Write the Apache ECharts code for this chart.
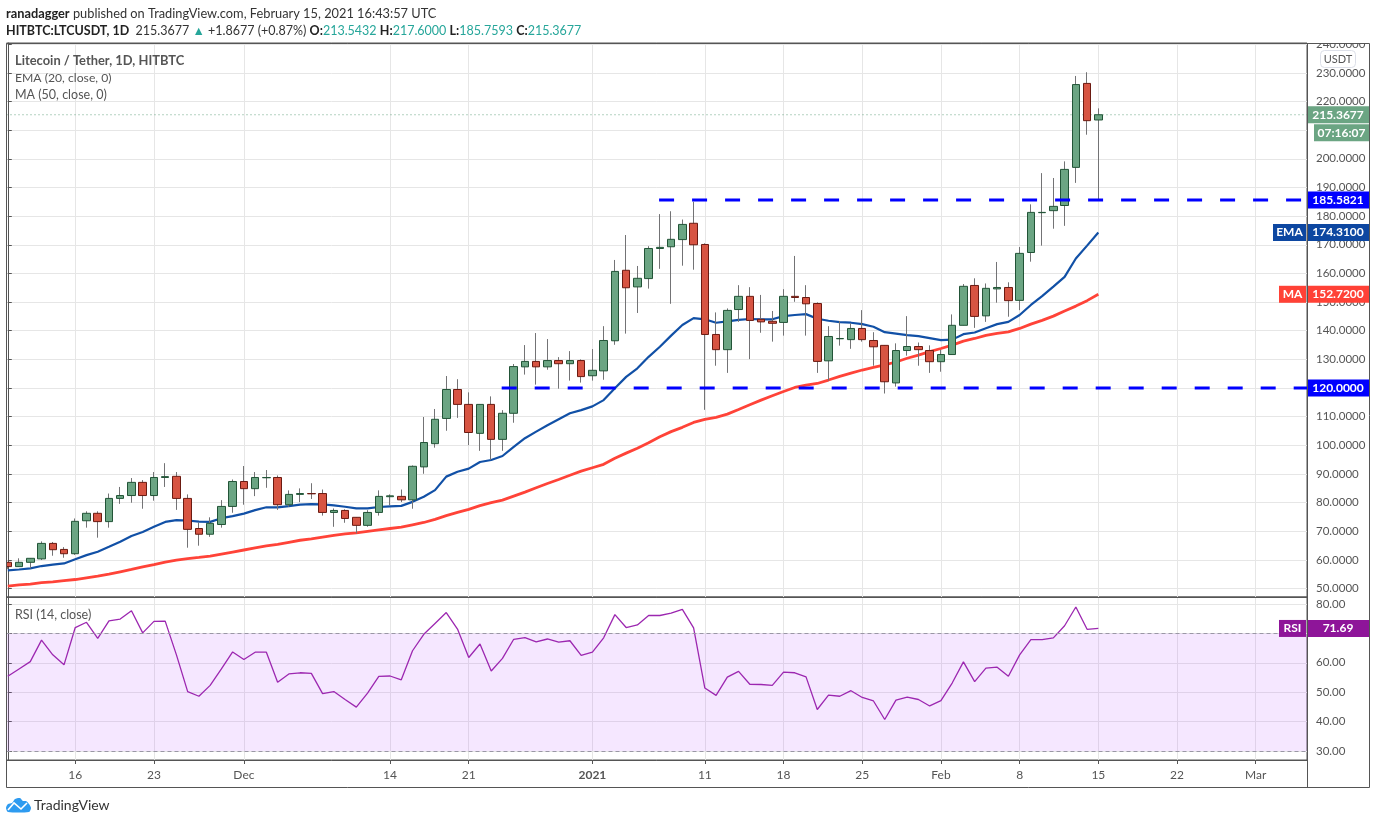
<!DOCTYPE html>
<html><head><meta charset="utf-8">
<style>html,body{margin:0;padding:0;background:#fff}#c{width:1376px;height:824px}</style>
<script src="https://cdn.jsdelivr.net/npm/echarts@6/dist/echarts.min.js"></script>
</head><body><div id="c"></div>
<script>
// day index: 0 = 10 Nov 2020, 97 = 15 Feb 2021
const tickDays=[6,13,21,34,41,52,62,69,76,83,90,97,104,111];
const tickLabels=['16','23','Dec','14','21','2021','11','18','25','Feb','8','15','22','Mar'];
const priceTicks=[50,60,70,80,90,100,110,120,130,140,150,160,170,180,190,200,210,220,230,240];
const rsiTicks=[30,40,50,60,70,80];
const opens=[59.2,57.7,59.2,60.4,65.8,63.7,62.2,73.7,76.3,73.4,81.5,82.5,87.1,82.5,88.8,89.2,81.5,71.0,69.0,72.4,78.7,87.4,84.9,88.7,88.8,79.3,82.9,83.2,83.2,76.6,77.3,74.9,72.1,76.6,82.1,82.2,81.0,92.5,100.6,109.4,
119.5,114.3,104.2,114.3,102.1,111.2,127.4,129.3,127.4,129.6,128.5,129.6,124.3,126.0,136.5,161.1,155.3,158.2,168.7,169.3,171.8,177.5,170.1,138.7,133.4,147.4,152.0,144.0,143.3,142.9,152.0,151.6,149.5,129.5,137.2,136.9,140.8,136.6,134.9,121.8,133.1,134.5,133.1,129.2,131.7,141.9,155.8,145.2,154.6,155.1,150.6,167.3,181.2,181.9,183.7,197.0,226.3,213.5432];
const closes=[57.7,59.2,60.6,65.8,63.6,62.2,73.5,76.3,73.4,81.5,82.5,87.1,82.5,88.8,89.1,81.5,70.7,69.0,72.8,78.7,87.4,84.9,88.8,88.8,79.3,82.9,83.2,83.1,76.6,77.3,74.5,72.1,76.6,82.2,82.4,81.0,92.7,101.0,109.1,119.5,
114.3,104.5,114.3,102.1,111.2,127.5,129.3,127.4,129.6,128.5,129.6,124.0,126.2,136.6,160.7,155.0,158.3,168.7,169.1,171.9,177.1,170.0,138.7,133.4,147.1,152.0,143.6,143.1,142.6,152.0,151.6,149.4,129.3,138.0,137.3,140.8,136.9,134.4,122.2,133.1,134.5,133.4,129.2,131.7,141.9,155.5,145.0,154.8,155.1,150.5,167.0,181.3,181.3,183.4,196.3,225.9,213.3,215.3677];
const lows=[56.9,57.7,57.1,60.0,61.5,60.8,61.8,71.3,67.8,71.3,79.6,80.0,77.9,80.7,85.5,77.5,64.3,65.0,68.1,71.3,76.5,79.3,82.3,85.2,77.5,78.6,80.2,81.3,75.5,71.6,73.0,69.3,71.6,75.5,79.1,80.2,77.9,90.1,99.2,105.1,
109.6,100.1,98.1,94.9,98.1,107.9,124.7,121.2,126.4,119.8,122.6,121.9,122.6,122.9,135.1,139.0,146.2,154.7,161.6,149.4,162.7,161.3,112.4,127.8,125.3,143.1,130.1,139.3,136.2,138.3,150.1,138.3,125.3,122.6,134.8,133.7,136.2,127.8,118.1,120.5,131.3,127.8,125.3,125.7,131.7,141.9,141.0,143.1,149.8,144.9,147.2,164.1,169.7,175.6,176.6,191.6,208.4,185.7593];
const highs=[59.2,60.6,60.6,66.5,66.3,64.5,74.5,77.0,77.0,83.2,85.5,88.6,87.9,90.7,93.8,90.7,82.9,73.1,74.9,80.9,88.1,92.8,90.7,91.4,89.5,84.3,85.0,86.8,84.6,78.0,77.7,74.9,77.4,84.3,82.9,84.6,93.0,109.9,112.7,124.2,
123.1,118.5,114.3,117.1,112.3,128.4,135.0,139.2,137.1,130.8,132.9,130.0,133.6,141.6,164.7,173.4,162.6,169.5,180.7,181.7,178.8,185.0,170.5,146.4,147.8,155.9,155.2,152.5,146.9,154.5,166.1,155.9,149.9,141.6,143.4,142.6,147.2,139.5,134.9,135.6,145.1,135.9,134.9,133.3,145.7,156.3,158.3,156.5,164.0,156.9,169.2,184.1,195.0,193.3,199.1,228.9,230.2,217.6];
const ema20=[56.4,56.7,57.1,57.9,58.4,58.8,60.3,61.7,62.9,64.6,66.4,68.4,69.8,71.6,73.3,73.9,73.8,73.4,73.3,74.6,75.3,76.2,77.4,78.4,78.4,78.8,79.3,79.5,79.4,79.1,78.6,78.0,78.0,78.5,78.7,78.9,80.3,82.1,84.4,89.1,
90.8,91.9,94.2,94.9,96.3,99.5,102.5,104.8,107.0,109.1,111.2,112.3,113.6,115.8,119.9,123.9,126.9,130.9,134.4,138.3,142.0,144.4,144.0,142.8,143.3,143.8,144.1,144.0,144.0,145.1,145.5,145.8,144.2,143.5,143.0,142.8,142.3,141.4,139.5,139.0,138.5,138.1,137.4,136.7,136.9,138.8,139.4,140.9,142.3,143.1,145.5,149.0,152.1,155.4,158.8,165.2,169.7,174.31];
const ma50=[50.9,51.3,51.6,52.1,52.4,52.8,53.2,53.8,54.4,55.1,55.9,56.7,57.6,58.4,59.3,60.0,60.5,60.9,61.4,62.1,62.8,63.5,64.2,64.9,65.5,66.2,66.9,67.4,68.0,68.6,69.1,69.5,70.0,70.5,71.0,71.5,72.3,73.1,74.2,75.5,
76.6,77.7,79.0,80.0,80.9,82.3,83.7,85.2,86.7,88.1,89.6,91.0,92.2,93.4,95.5,97.3,99.0,100.9,103.0,104.8,106.3,108.0,109.1,109.8,110.9,112.5,114.2,115.8,117.3,118.8,120.2,121.0,121.6,122.8,124.1,125.2,126.3,127.2,128.1,129.1,130.4,131.5,132.7,133.8,135.0,136.4,137.3,138.4,139.1,139.6,140.8,142.3,143.6,145.1,146.9,148.6,150.5,152.72];
const rsi14=[55.4,57.9,60.4,67.7,62.7,59.3,72.0,73.8,68.3,74.3,74.9,77.7,70.2,74.1,74.2,62.7,50.2,48.6,52.3,57.9,63.7,61.1,63.6,63.6,53.4,56.2,56.6,56.4,49.5,50.2,47.5,44.9,49.7,55.4,55.5,54.2,64.1,69.7,73.4,77.1,
71.5,61.8,66.4,57.2,61.5,68.0,68.6,67.1,68.1,67.0,67.5,62.5,63.6,68.5,76.4,72.0,72.9,76.1,76.1,76.9,78.2,71.9,51.4,48.9,55.1,57.1,52.7,52.6,52.3,56.8,56.6,55.2,44.1,49.0,48.6,50.5,48.2,47.0,40.7,47.3,48.3,47.5,45.3,47.1,53.1,60.3,53.6,58.2,58.5,55.4,62.7,67.9,67.9,68.5,72.6,79.0,71.4,71.69];
const resistance=185.5821, resistanceFrom=57.93;
const support=120, supportFrom=43.93;
const lastPrice=215.3677, emaLast=174.31, maLast=152.72, rsiLast=71.69;

const FONT='Lato';
const GRID='#e6e6e6', FRAME='#555', TXT='#555';
const xMin=-0.115, xMax=115.56;
const chart=echarts.init(document.getElementById('c'),null,{renderer:'canvas'});
const days=opens.map((_,i)=>i);
const candleData=days.map(i=>[i,opens[i],closes[i],lows[i],highs[i]]);
const bodyData=days.map(i=>[i,opens[i],closes[i],Math.min(opens[i],closes[i]),Math.max(opens[i],closes[i])]);
const pair=a=>a.map((v,i)=>[i,v]);
const xBase={type:'value',min:xMin,max:xMax,
  axisLine:{show:true,lineStyle:{color:FRAME}},
  axisTick:{customValues:tickDays,length:4,lineStyle:{color:FRAME}},
  splitLine:{show:true,lineStyle:{color:GRID,width:1}}};
const main={left:6.5,right:69,top:43,height:554,show:true,borderColor:FRAME,borderWidth:1,backgroundColor:'transparent'};
const sub={left:6.5,right:69,top:597,height:163,show:true,borderColor:FRAME,borderWidth:1,backgroundColor:'transparent'};
const yBase=(min,max,ticks,fmt)=>({type:'value',position:'right',min,max,
  axisLine:{show:true,lineStyle:{color:FRAME}},
  axisTick:{show:true,customValues:ticks,length:4,lineStyle:{color:FRAME}},
  axisLabel:{customValues:ticks,formatter:fmt,color:TXT,fontFamily:FONT,fontSize:11.5,margin:9,showMinLabel:true,showMaxLabel:true,hideOverlap:false},
  splitLine:{show:true,lineStyle:{color:GRID,width:1}}});

const option={
  animation:false,backgroundColor:'#fff',textStyle:{fontFamily:FONT},
  grid:[main,sub],
  xAxis:[
    Object.assign({},xBase,{gridIndex:0,axisLabel:{show:false,customValues:tickDays},axisTick:{show:false,customValues:tickDays}}),
    Object.assign({},xBase,{gridIndex:1,axisLabel:{customValues:tickDays,color:TXT,fontFamily:FONT,fontSize:12,margin:9,hideOverlap:false,
      formatter:v=>{const s=tickLabels[tickDays.indexOf(v)];return s==='2021'?'{b|2021}':s;},rich:{b:{fontWeight:'bold',color:TXT,fontFamily:FONT,fontSize:12}}}})
  ],
  yAxis:[
    yBase(47.1,240.4,priceTicks,v=>v.toFixed(4)),
    Object.assign(yBase(26.9,82.4,rsiTicks,v=>v.toFixed(2)),{gridIndex:1})
  ],
  series:[
    {name:'EMA',type:'line',z:2,data:pair(ema20),showSymbol:false,symbol:'none',lineStyle:{color:'#1150a6',width:2.2},silent:true},
    {name:'MA',type:'line',z:2,data:pair(ma50),showSymbol:false,symbol:'none',lineStyle:{color:'#ff4338',width:2.8},silent:true},
    {name:'wick',type:'candlestick',z:3,barWidth:1,clip:true,data:candleData,encode:{x:0,y:[1,2,3,4]},
      itemStyle:{color:'#737375',color0:'#737375',borderColor:'#737375',borderColor0:'#737375',borderWidth:1}},
    {name:'body',type:'candlestick',z:4,barWidth:8,clip:true,data:bodyData,encode:{x:0,y:[1,2,3,4]},
      itemStyle:{color:'#6ba583',color0:'#d75442',borderColor:'#225437',borderColor0:'#6b1a11',borderWidth:1}},
    {name:'last',type:'line',z:4,data:[[xMin,lastPrice],[xMax,lastPrice]],symbol:'none',lineStyle:{color:'#6ba583',width:1,type:[1,3]},silent:true},
    {name:'resistance',type:'line',z:5,data:[[resistanceFrom,resistance],[xMax,resistance]],symbol:'none',lineStyle:{color:'#0000ff',width:3,type:[15,18]},silent:true},
    {name:'support',type:'line',z:5,data:[[supportFrom,support],[xMax,support]],symbol:'none',lineStyle:{color:'#0000ff',width:3,type:[15,18]},silent:true},
    {name:'RSI',type:'line',xAxisIndex:1,yAxisIndex:1,z:4,data:pair(rsi14),symbol:'none',lineStyle:{color:'#9c27b0',width:1.3},silent:true,
      markArea:{silent:true,itemStyle:{color:'rgba(170,60,255,0.12)'},data:[[{yAxis:70,xAxis:xMin},{yAxis:30,xAxis:xMax}]]},
      markLine:{silent:true,symbol:'none',label:{show:false},lineStyle:{color:'#9a97a5',width:1,type:[4,3]},data:[{yAxis:70},{yAxis:30}]}}
  ]
};
chart.setOption(option);

const priceY=v=>chart.convertToPixel({yAxisIndex:0},v);
const rsiY=v=>chart.convertToPixel({yAxisIndex:1},v);
const AX=1307, AR=1369;
function tag(x,w,cy,txt,fill){
  return [{type:'rect',z:100,shape:{x,y:cy-8.5,width:w,height:17},style:{fill}},
    {type:'text',z:101,x:x+w/2,y:cy,style:{text:txt,fill:'#fff',font:'bold 12px '+FONT,align:'center',verticalAlign:'middle'}}];
}
const txt=(x,y,text,fill,size,weight)=>({type:'text',z:101,x,y,style:{text,fill,font:(weight?weight+' ':'')+size+'px '+FONT,verticalAlign:'middle'}});
const lastY=priceY(lastPrice), emaY=priceY(emaLast), maY=priceY(maLast), resY=priceY(resistance), supY=priceY(support), rY=rsiY(rsiLast);
const green='#6ba583', TEAL='#26a69a';
const graphics=[
  // masks: keep the clipped first candle and the top label inside the frame
  {type:'rect',z:99,shape:{x:0,y:43,width:6.5,height:554},style:{fill:'#fff'}},
  {type:'rect',z:99,shape:{x:AX+0.5,y:36,width:70,height:7},style:{fill:'#fff'}},
  {type:'polyline',z:102,shape:{points:[[6.5,43.5],[AR+0.5,43.5],[AR+0.5,787.5],[6.5,787.5],[6.5,43.5]]},style:{stroke:FRAME,fill:'none',lineWidth:1}},
  {type:'line',z:102,shape:{x1:AX+0.5,y1:43,x2:AX+0.5,y2:787},style:{stroke:FRAME,lineWidth:1}},
  {type:'rect',z:100,shape:{x:1320.5,y:50.5,width:35,height:17,r:4},style:{fill:'#fff',stroke:'#dcdfe8',lineWidth:1}},
  {type:'text',z:101,x:1338,y:59,style:{text:'USDT',fill:TXT,font:'11px '+FONT,align:'center',verticalAlign:'middle'}},
  ...tag(AX,AR-AX,lastY,'215.3677',green),
  ...tag(1314,AR-1314,lastY+18,'07:16:07',green),
  ...tag(AX,AR-AX,resY,'185.5821','#0000ff'),
  ...tag(AX,AR-AX,supY,'120.0000','#0000ff'),
  ...tag(AX,AR-AX,emaY,'174.3100','#0d47a1'),
  ...tag(1273,33,emaY,'EMA','#0d47a1'),
  ...tag(AX,AR-AX,maY,'152.7200','#ff4136'),
  ...tag(1279,27,maY,'MA','#ff4136'),
  ...tag(AX,AR-AX,rY,rsiLast.toFixed(2),'#8e1599'),
  ...tag(1279,27,rY,'RSI','#8e1599'),
  // header
  {type:'text',z:101,x:6,y:14,style:{text:'{b|ranadagger} {n|published on TradingView.com, February 15, 2021 16:43:57 UTC}',verticalAlign:'middle',font:'12.8px '+FONT,
     rich:{b:{font:'bold 12.8px '+FONT,fill:'#222'},n:{font:'12.8px '+FONT,fill:'#333'}}}},
  {type:'text',z:101,x:6,y:31,style:{text:'{b|HITBTC:LTCUSDT, 1D}  {n|215.3677} {t|▲} {n|+1.8677 (+0.87%)} {b|O:}{t|213.5432} {b|H:}{t|217.6000} {b|L:}{t|185.7593} {b|C:}{t|215.3677}',verticalAlign:'middle',font:'12.5px '+FONT,
     rich:{b:{font:'bold 12.5px '+FONT,fill:'#222'},n:{font:'12.5px '+FONT,fill:'#333'},t:{font:'12.5px '+FONT,fill:TEAL}}}},
  txt(15,61,'Litecoin / Tether, 1D, HITBTC',TXT,12.9,'bold'),
  txt(15,78,'EMA (20, close, 0)',TXT,12.2),
  txt(15,95,'MA (50, close, 0)',TXT,12.5),
  txt(15,615,'RSI (14, close)',TXT,12.5),
  // logo
  {type:'polygon',z:101,shape:{smooth:0.25,points:[[6,808],[8,804],[12,803],[15,799],[20,798],[23,801],[26,801],[29,804],[31,808],[29,812],[8,812]]},style:{fill:'#2e9bf0'}},
  {type:'polyline',z:102,shape:{points:[[8,810],[14,803],[21,809],[27,803]]},style:{stroke:'#fff',fill:'none',lineWidth:1.6}},
  txt(34,805,'TradingView','#333',14)
];
chart.setOption({graphic:graphics});
</script></body></html>
